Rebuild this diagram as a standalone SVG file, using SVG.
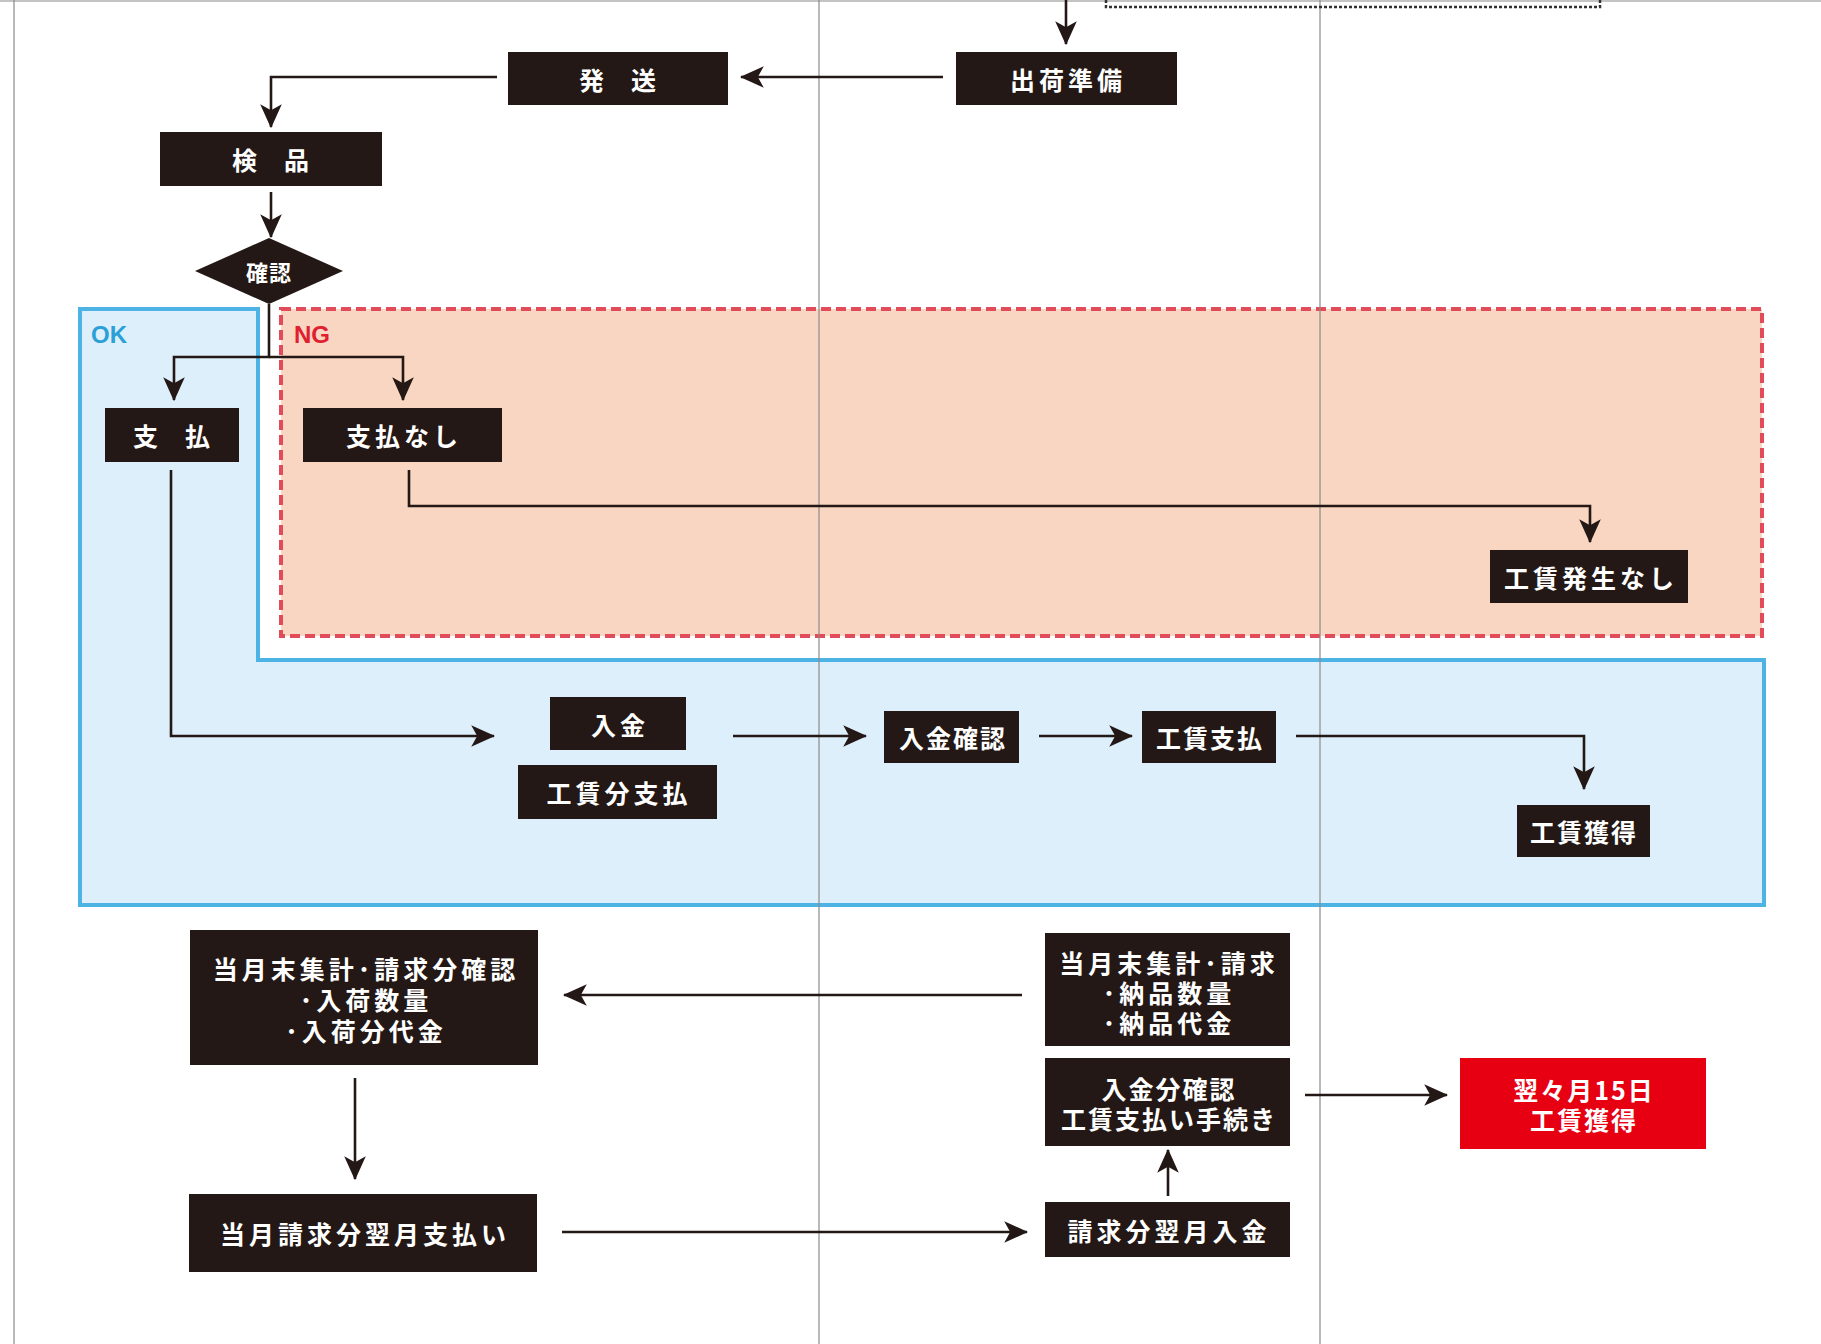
<svg xmlns="http://www.w3.org/2000/svg" width="1821" height="1344" viewBox="0 0 1821 1344">
<style>
.box{fill:#231815}
.red{fill:#e60012}
.t{fill:#fff;font-family:"Noto Sans CJK JP","Noto Sans",sans-serif;font-weight:700;font-size:25px;text-anchor:middle;dominant-baseline:central;letter-spacing:4px}
.sp{letter-spacing:1px}
.c{fill:none;stroke:#231815;stroke-width:2.6}
.div{stroke:#8a8a8a;stroke-width:1.2}
.lbl{font-family:"Liberation Sans","Noto Sans",sans-serif;font-weight:700;font-size:24px}
</style>
<defs>
<marker id="ah" viewBox="0 0 20 20" refX="19" refY="10" markerWidth="24" markerHeight="24" orient="auto" markerUnits="userSpaceOnUse">
<path d="M0,1 L20,10 L0,19 L5,10 z" fill="#231815"/>
</marker>
</defs>
<rect width="1821" height="1344" fill="#fff"/>
<g id="regions">
<path id="ok-region" d="M80,309 H258 V660 H1764 V905 H80 Z" fill="#ddeffa" stroke="#4db2e4" stroke-width="4"/>
<rect id="ng-region" x="281" y="309" width="1481" height="327" fill="#f8d6c1" stroke="#e24b5a" stroke-width="4" stroke-dasharray="10 5"/>
<text class="lbl" x="91" y="343" fill="#2b9fd8">OK</text>
<text class="lbl" x="294" y="343" fill="#e0202e">NG</text>
</g>
<g id="frame">
<line class="div" x1="0" y1="1" x2="1821" y2="1"/>
<line class="div" x1="14" y1="0" x2="14" y2="1344"/>
<line class="div" x1="819" y1="0" x2="819" y2="1344"/>
<line class="div" x1="1320" y1="0" x2="1320" y2="1344"/>
<path d="M1106,0 V7 H1600 V0" fill="none" stroke="#333" stroke-width="2.5" stroke-dasharray="3 2"/>
</g>
<g id="connectors">
<path class="c" d="M1066,0 V44" marker-end="url(#ah)"/>
<path class="c" d="M943,77 H741" marker-end="url(#ah)"/>
<path class="c" d="M497,77 H271 V127" marker-end="url(#ah)"/>
<path class="c" d="M271,192 V237" marker-end="url(#ah)"/>
<path class="c" d="M269,304 V357 H174 V400" marker-end="url(#ah)"/>
<path class="c" d="M269,357 H403 V400" marker-end="url(#ah)"/>
<path class="c" d="M409,470 V506 H1590 V542" marker-end="url(#ah)"/>
<path class="c" d="M171,470 V736 H494" marker-end="url(#ah)"/>
<path class="c" d="M733,736 H866" marker-end="url(#ah)"/>
<path class="c" d="M1039,736 H1132" marker-end="url(#ah)"/>
<path class="c" d="M1296,736 H1584 V789" marker-end="url(#ah)"/>
<path class="c" d="M1022,995 H564" marker-end="url(#ah)"/>
<path class="c" d="M355,1078 V1179" marker-end="url(#ah)"/>
<path class="c" d="M562,1232 H1027" marker-end="url(#ah)"/>
<path class="c" d="M1168,1196 V1150" marker-end="url(#ah)"/>
<path class="c" d="M1305,1095 H1447" marker-end="url(#ah)"/>
</g>
<g id="n-shukka"><rect class="box" x="956" y="52" width="221" height="53"/><text class="t" x="1068" y="79">出荷準備</text></g>
<g id="n-hasso"><rect class="box" x="508" y="52" width="220" height="53"/><text class="t sp" x="618" y="79">発　送</text></g>
<g id="n-kenpin"><rect class="box" x="160" y="132" width="222" height="54"/><text class="t sp" x="271" y="159">検　品</text></g>
<g id="n-kakunin"><path class="box" d="M269,238 L343,271 L269,304 L195,271 Z"/><text class="t sp" x="269" y="271" style="font-size:22px">確認</text></g>
<g id="n-shiharai"><rect class="box" x="105" y="408" width="134" height="54"/><text class="t sp" x="172" y="435">支　払</text></g>
<g id="n-shiharainashi"><rect class="box" x="303" y="408" width="199" height="54"/><text class="t" x="404" y="435">支払なし</text></g>
<g id="n-kochinnashi"><rect class="box" x="1490" y="550" width="198" height="53"/><text class="t" x="1591" y="577">工賃発生なし</text></g>
<g id="n-nyukin"><rect class="box" x="550" y="697" width="136" height="53"/><text class="t" x="620" y="724">入金</text></g>
<g id="n-kochinbun"><rect class="box" x="518" y="765" width="199" height="54"/><text class="t" x="619" y="792">工賃分支払</text></g>
<g id="n-nyukinkakunin"><rect class="box" x="884" y="711" width="135" height="52"/><text class="t" x="953" y="737" style="letter-spacing:2px">入金確認</text></g>
<g id="n-kochinshiharai"><rect class="box" x="1142" y="711" width="134" height="52"/><text class="t" x="1210" y="737" style="letter-spacing:2px">工賃支払</text></g>
<g id="n-kochinkakutoku"><rect class="box" x="1517" y="805" width="133" height="52"/><text class="t" x="1584" y="831" style="letter-spacing:2px">工賃獲得</text></g>
<g id="n-getsumatsu-left"><rect class="box" x="190" y="930" width="348" height="135"/>
<text class="t" x="366" y="968"><tspan x="366" y="968">当月末集計･請求分確認</tspan><tspan x="366" dy="31">･入荷数量</tspan><tspan x="366" dy="31">･入荷分代金</tspan></text></g>
<g id="n-getsumatsu-right"><rect class="box" x="1045" y="933" width="245" height="113"/>
<text class="t" x="1169" y="962"><tspan x="1169" y="962">当月末集計･請求</tspan><tspan x="1169" dy="30">･納品数量</tspan><tspan x="1169" dy="30">･納品代金</tspan></text></g>
<g id="n-nyukinbun"><rect class="box" x="1045" y="1058" width="245" height="88"/>
<text class="t" x="1169" y="1088" style="letter-spacing:2px"><tspan x="1169" y="1088">入金分確認</tspan><tspan x="1169" dy="30">工賃支払い手続き</tspan></text></g>
<g id="n-yokuyoku"><rect class="red" x="1460" y="1058" width="246" height="91"/>
<text class="t" x="1584" y="1089" style="letter-spacing:2px"><tspan x="1584" y="1089">翌々月15日</tspan><tspan x="1584" dy="30">工賃獲得</tspan></text></g>
<g id="n-togetsu"><rect class="box" x="189" y="1194" width="348" height="78"/><text class="t" x="365" y="1233">当月請求分翌月支払い</text></g>
<g id="n-seikyubun"><rect class="box" x="1045" y="1202" width="245" height="55"/><text class="t" x="1169" y="1230">請求分翌月入金</text></g>
</svg>
